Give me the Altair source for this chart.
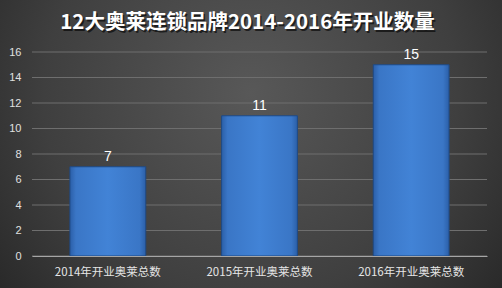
import altair as alt
import pandas as pd

categories = ["2014年开业奥莱总数", "2015年开业奥莱总数", "2016年开业奥莱总数"]
values = [7, 11, 15]
y_ticks = [0, 2, 4, 6, 8, 10, 12, 14, 16]
title_text = "12大奥莱连锁品牌2014-2016年开业数量"

df = pd.DataFrame({"cat": categories, "val": values})
grid_df = pd.DataFrame({"t": y_ticks})

W, H = 455, 204
PL, PT, PR, PB = 32, 52, 15, 32

bg = alt.Chart(pd.DataFrame({"a": [0]})).mark_rect(
    fill={"gradient": "radial", "x1": 0.5, "y1": 0.4, "r1": 0, "x2": 0.5, "y2": 0.4, "r2": 0.75,
          "stops": [{"offset": 0, "color": "#585858"}, {"offset": 0.55, "color": "#3f3f3f"},
                    {"offset": 1, "color": "#1e1e1e"}]},
    stroke=None,
).encode(
    x=alt.value(-PL), x2=alt.value(W + PR), y=alt.value(-PT), y2=alt.value(H + PB)
)

yscale = alt.Scale(domain=[min(y_ticks), max(y_ticks)], nice=False)
yaxis = alt.Axis(title=None, tickCount=len(y_ticks) - 1, grid=False, domain=False, ticks=False,
                 labelColor="#e0e0e0", labelFontSize=11, labelFont="Liberation Sans",
                 labelPadding=11, labelOverlap=False, labelBound=False, zindex=1)

grid = alt.Chart(grid_df).mark_rule(color="#6e6e6e", strokeWidth=1).encode(
    y=alt.Y("t:Q", scale=yscale, axis=yaxis),
    x=alt.value(0), x2=alt.value(W),
)

bars = alt.Chart(df).mark_bar(
    fill={"gradient": "linear", "x1": 0, "y1": 0, "x2": 1, "y2": 0,
          "stops": [{"offset": 0, "color": "#2b5fa8"}, {"offset": 0.08, "color": "#3a76c6"},
                    {"offset": 0.5, "color": "#4283d6"}, {"offset": 0.92, "color": "#3a76c6"},
                    {"offset": 1, "color": "#2b5fa8"}]},
    stroke="#1f4a85", strokeWidth=1,
).encode(
    x=alt.X("cat:N", sort=categories, scale=alt.Scale(paddingInner=0.5, paddingOuter=0.25),
            axis=alt.Axis(title=None, labelAngle=0, labelColor="#e6e6e6", labelFontSize=11.5,
                          labelFont="Noto Sans CJK SC", domainColor="#a6a6a6", domainWidth=1,
                          ticks=False, labelPadding=10, zindex=1)),
    y=alt.Y("val:Q", scale=yscale, axis=yaxis),
)

labels = alt.Chart(df).mark_text(
    dy=-10, color="#ffffff", fontSize=14, font="Liberation Sans"
).encode(
    x=alt.X("cat:N", sort=categories),
    y=alt.Y("val:Q", scale=yscale),
    text="val:Q",
)

title = alt.Chart(pd.DataFrame({"t": [title_text]})).mark_text(
    color="#ffffff", fontSize=20.5, fontWeight="bold", font="Noto Sans CJK SC", baseline="middle"
).encode(
    x=alt.value(W / 2 - 12), y=alt.value(-29), text="t:N"
)

title_shadow = alt.Chart(pd.DataFrame({"t": [title_text]})).mark_text(
    color="#000000", opacity=0.6, fontSize=20.5, fontWeight="bold", font="Noto Sans CJK SC", baseline="middle"
).encode(
    x=alt.value(W / 2 - 12 + 1.5), y=alt.value(-29 + 1.5), text="t:N"
)

chart = alt.layer(bg, grid, bars, labels, title_shadow, title).properties(
    width=W, height=H,
    autosize=alt.AutoSizeParams(type="none"),
    padding={"left": PL, "top": PT, "right": PR, "bottom": PB},
).configure_view(stroke=None).configure_axis(labelOverlap=False).configure(background="#2a2a2a")

chart.save("out.html", embed_options={"renderer": "svg", "actions": False})
